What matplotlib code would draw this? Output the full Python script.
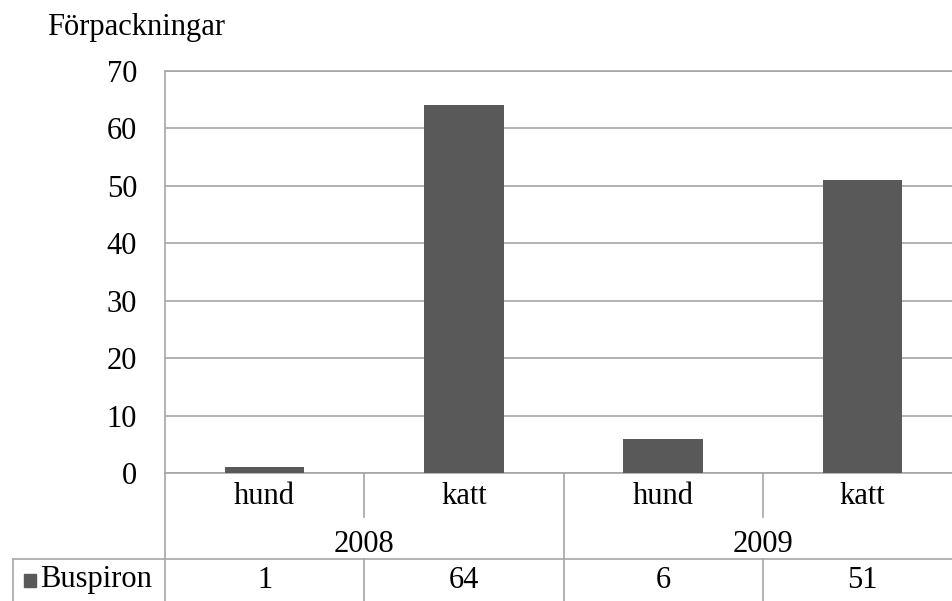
import matplotlib.pyplot as plt
from matplotlib.transforms import blended_transform_factory

plt.rcParams['font.family'] = ['Liberation Serif', 'DejaVu Serif']

animals = ['hund', 'katt', 'hund', 'katt']
years = ['2008', '2009']
values = [1, 64, 6, 51]
series_name = 'Buspiron'
ylabel = 'Förpackningar'

bar_color = '#595959'
line_color = '#a6a6a6'
fs = 22

W, H = 952, 601
fig = plt.figure(figsize=(W / 100, H / 100), dpi=100)
# plot area: x 165..962 px (right edge runs off the image), y 71..473 px
ax = fig.add_axes([165 / W, (H - 473) / H, (962 - 165) / W, (473 - 71) / H])

x = list(range(len(values)))
ax.bar(x, values, width=0.4, color=bar_color, zorder=3)
ax.set_xlim(-0.5, 3.5)
ax.set_ylim(0, 70)
ax.set_yticks(range(0, 71, 10))
ax.yaxis.grid(True, color=line_color, lw=1.2)
ax.set_axisbelow(True)
ax.set_xticks([])
ax.tick_params(axis='y', length=0, pad=20, labelsize=fs)
for s in ['top', 'right', 'bottom', 'left']:
    ax.spines[s].set_color(line_color)
    ax.spines[s].set_linewidth(1.2)
ax.spines['right'].set_visible(False)

fig.text(47 / W, 1 - 28 / H, ylabel, fontsize=fs, va='center', ha='left')

# helper: x in data coords, y in figure pixels from top
tr = blended_transform_factory(ax.transData, fig.transFigure)
trf = fig.transFigure


def yf(py):
    return 1 - py / H


def vline(xd, y0, y1):
    ax.plot([xd, xd], [yf(y0), yf(y1)], transform=tr, color=line_color,
            lw=1.2, clip_on=False)


# category axis
for i, a in enumerate(animals):
    ax.text(i, yf(496), a, transform=tr, ha='center', va='center', fontsize=fs)
for j, yr in enumerate(years):
    ax.text(2 * j + 0.5, yf(545), yr, transform=tr, ha='center', va='center',
            fontsize=fs)
vline(0.5, 473, 517)
vline(2.5, 473, 517)
vline(-0.5, 473, 601)
vline(1.5, 473, 601)
vline(3.5, 473, 601)

# data table
fig.add_artist(plt.Line2D([13 / W, 1], [yf(559), yf(559)], color=line_color,
                          lw=1.2, transform=trf))
fig.add_artist(plt.Line2D([13 / W, 13 / W], [yf(559), 0], color=line_color,
                          lw=1.2, transform=trf))
vline(0.5, 559, 601)
vline(2.5, 559, 601)
fig.add_artist(plt.Rectangle((24 / W, yf(587)), 12 / W, 13 / H,
                             color=bar_color, transform=trf))
fig.text(40 / W, yf(580), series_name, fontsize=fs, va='center', ha='left')
for i, v in enumerate(values):
    ax.text(i, yf(580), str(v), transform=tr, ha='center', va='center',
            fontsize=fs)

plt.savefig('out.png', dpi=100)
